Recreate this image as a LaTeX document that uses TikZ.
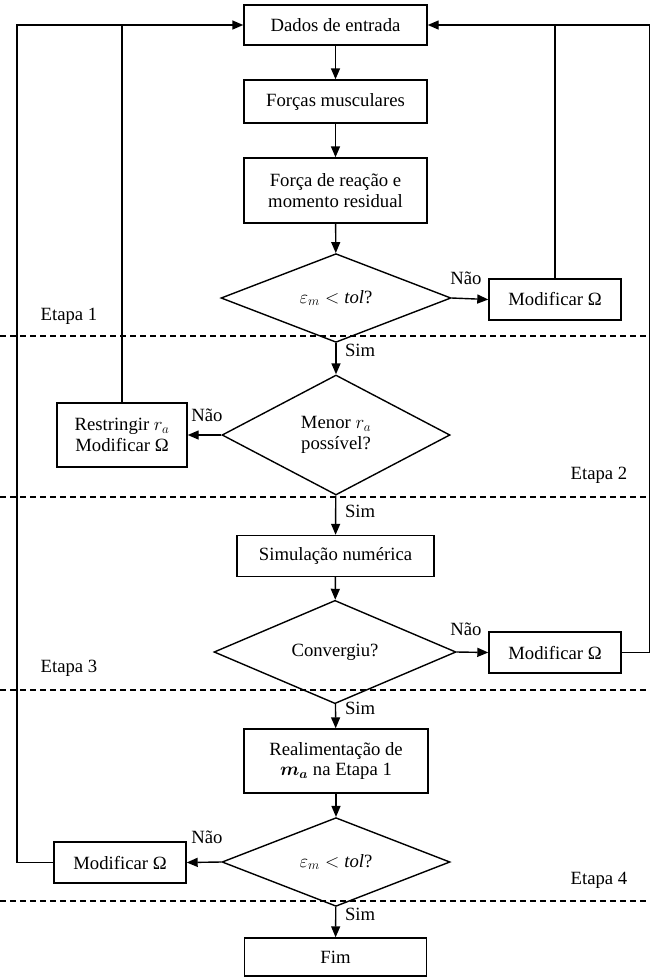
\RequirePackage{fix-cm}
\documentclass[tikz,border=0pt]{standalone}
\usepackage{fontspec}
\setmainfont{Liberation Serif}
\usepackage{bm}
\usetikzlibrary{shapes.geometric,arrows.meta}

\begin{document}
\begin{tikzpicture}[x=1pt,y=-1pt,
  font=\fontsize{18.7}{20.5}\selectfont,
  line width=1.4pt,
  box/.style={draw,rectangle,align=center,inner sep=2pt},
  decision/.style={draw,diamond,align=center,inner sep=0pt},
  arr/.style={-{Triangle[length=11pt,width=9pt]}},
  stageline/.style={dash pattern=on 6pt off 4pt,line width=1.1pt}]
\useasboundingbox (0,0) rectangle (649,978);

% blocos principais
\node[box,minimum width=183,minimum height=40] at (335.5,25) (dados) {Dados de entrada};
\node[box,minimum width=183,minimum height=43] at (335.5,101.5) (forcas) {Forças musculares};
\node[box,minimum width=183,minimum height=65] at (335.5,190.5) (reacao) {Força de reação e\\momento residual};
\node[decision,minimum width=230,minimum height=80] at (336,298) (dec1) {$\varepsilon_m < \mathit{tol}$?};
\node[box,minimum width=132,minimum height=41] at (555,299.5) (mod1) {Modificar Ω};
\node[decision,minimum width=228,minimum height=120] at (336,435) (dec2) {Menor $r_a$\\possível?};
\node[box,minimum width=130,minimum height=64] at (122,435) (restr) {Restringir $r_a$\\Modificar Ω};
\node[box,minimum width=197,minimum height=41] at (335.5,556) (simul) {Simulação numérica};
\node[decision,minimum width=242,minimum height=80] at (335,652) (dec3) {Convergiu?};
\node[box,minimum width=132,minimum height=41] at (555,652.5) (mod3) {Modificar Ω};
\node[box,minimum width=184,minimum height=64] at (336,761) (realim) {Realimentação de\\$\bm{m_a}$ na Etapa 1};
\node[decision,minimum width=228,minimum height=78] at (336,862) (dec4) {$\varepsilon_m < \mathit{tol}$?};
\node[box,minimum width=132,minimum height=41] at (120,862.5) (mod4) {Modificar Ω};
\node[box,minimum width=182,minimum height=38] at (335.5,957) (fim) {Fim};

% etapas
\draw[stageline] (0,336) -- (649,336);
\draw[stageline] (0,497) -- (649,497);
\draw[stageline] (0,690) -- (649,690);
\draw[stageline] (0,901) -- (649,901);
\node at (69,316) (et1) {Etapa 1};
\node at (599,475) (et2) {Etapa 2};
\node at (69,668) (et3) {Etapa 3};
\node at (599,880) (et4) {Etapa 4};

% fluxo
\draw[arr] (dados) -- (forcas);
\draw[arr] (forcas) -- (reacao);
\draw[arr] (reacao) -- (dec1);
\draw[arr] (dec1) -- (dec2);
\draw[arr] (dec2) -- (simul);
\draw[arr] (simul) -- (dec3);
\draw[arr] (dec3) -- (realim);
\draw[arr] (realim) -- (dec4);
\draw[arr] (dec4) -- (fim);
\draw[arr] (dec1.east) -- (mod1.west);
\draw[arr] (dec2.west) -- (restr.east);
\draw[arr] (dec3.east) -- (mod3.west);
\draw[arr] (dec4.west) -- (mod4.east);

\node at (466,278) (n1) {Não};
\node at (207,415) (n2) {Não};
\node at (466,629) (n3) {Não};
\node at (207,837) (n4) {Não};
\node[anchor=west] at (341,350) (s1) {Sim};
\node[anchor=west] at (341,511) (s2) {Sim};
\node[anchor=west] at (341,708) (s3) {Sim};
\node[anchor=west] at (341,914) (s4) {Sim};

% retornos
\coordinate (lt) at (17,25);
\coordinate (rt) at (650,25);
\draw[arr] (mod4.west) -| (lt) -- (dados.west);
\draw (restr.north) -- (restr.north |- lt);
\draw[arr] (mod3.east) -| (rt) -- (dados.east);
\draw (mod1.north) -- (mod1.north |- rt);
\end{tikzpicture}
\end{document}
